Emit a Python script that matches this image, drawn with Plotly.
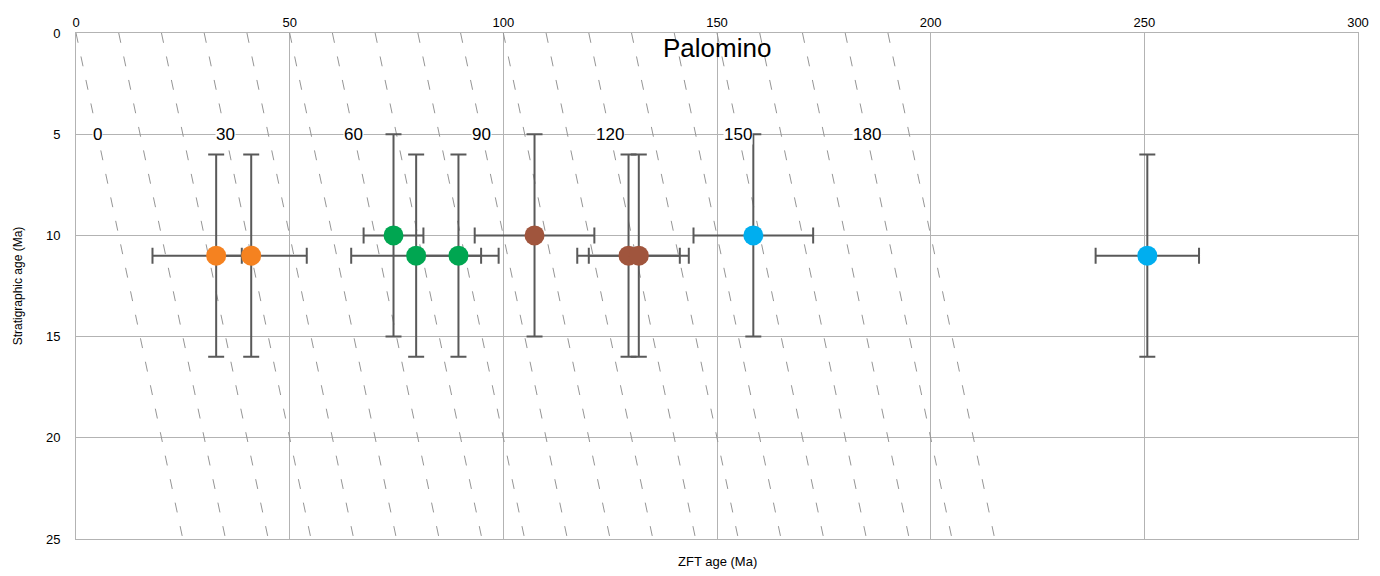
import plotly.graph_objects as go

# ---- data ----
lags = list(range(0, 200, 10))          # lag-time reference lines (Ma)
lag_labels = [0, 30, 60, 90, 120, 150, 180]
strat_range = [0, 25]

orange_x = [32.8, 41.0]
orange_y = [11, 11]
orange_xplus = [6.0, 13.0]
orange_xminus = [14.9, 8.0]
orange_yerr = [5, 5]

green_x = [74.3, 79.6, 89.5]
green_y = [10, 11, 11]
green_xerr = [7.0, 15.2, 9.4]
green_yerr = [5, 5, 5]

brown_x = [107.3, 129.3, 131.7]
brown_y = [10, 11, 11]
brown_xerr = [14.0, 12.0, 11.7]
brown_yerr = [5, 5, 5]

blue_x = [158.5, 250.7]
blue_y = [10, 11]
blue_xerr = [14.0, 12.1]
blue_yerr = [5, 5]

FONT = "Liberation Sans, Arial, Helvetica, sans-serif"
ERR_COLOR = "#595959"

fig = go.Figure()

# lag lines: ZFT age = stratigraphic age + lag
for lag in lags:
    fig.add_trace(go.Scatter(
        x=[lag + strat_range[0], lag + strat_range[1]],
        y=strat_range,
        mode="lines",
        line=dict(color="#959595", width=1, dash="10px,14px"),
        hoverinfo="skip", showlegend=False,
    ))

def add_series(x, y, color, xplus, xminus, yerr):
    fig.add_trace(go.Scatter(
        x=x, y=y, mode="markers",
        marker=dict(color=color, size=20, line=dict(width=0)),
        error_x=dict(type="data", array=xplus, arrayminus=xminus, symmetric=False,
                     color=ERR_COLOR, thickness=2, width=8),
        error_y=dict(type="data", array=yerr, color=ERR_COLOR, thickness=2, width=8),
        showlegend=False,
    ))

add_series(orange_x, orange_y, "#F58220", orange_xplus, orange_xminus, orange_yerr)
add_series(green_x, green_y, "#00A651", green_xerr, green_xerr, green_yerr)
add_series(brown_x, brown_y, "#A0553D", brown_xerr, brown_xerr, brown_yerr)
add_series(blue_x, blue_y, "#00AEEF", blue_xerr, blue_xerr, blue_yerr)

annotations = []
for lab in lag_labels:
    annotations.append(dict(
        x=lab + 5, y=5, xref="x", yref="y", text=str(lab), showarrow=False,
        font=dict(family=FONT, size=17, color="#000"),
        bgcolor="white", borderpad=0, xanchor="center", yanchor="middle",
    ))
annotations.append(dict(
    x=0.5, y=0.97, xref="paper", yref="paper", text="Palomino", showarrow=False,
    font=dict(family=FONT, size=26, color="#000"), xanchor="center", yanchor="middle",
))
annotations.append(dict(
    x=0.5, y=-0.045, xref="paper", yref="paper", text="ZFT age (Ma)", showarrow=False,
    font=dict(family=FONT, size=13, color="#000"), xanchor="center", yanchor="middle",
))

GRID = "#b3b3b3"
fig.update_layout(
    width=1380, height=576,
    margin=dict(l=76, r=22, t=33, b=37),
    paper_bgcolor="white", plot_bgcolor="white",
    font=dict(family=FONT, size=13, color="#000"),
    annotations=annotations,
    xaxis=dict(
        range=[0, 300], side="top", tickmode="linear", tick0=0, dtick=50,
        showgrid=True, gridcolor=GRID, gridwidth=1,
        showline=True, linecolor=GRID, linewidth=1, mirror=True,
        zeroline=False, ticks="", tickfont=dict(size=13),
    ),
    yaxis=dict(
        range=[25, 0], tickmode="linear", tick0=0, dtick=5,
        showgrid=True, gridcolor=GRID, gridwidth=1,
        showline=True, linecolor=GRID, linewidth=1, mirror=True,
        zeroline=False, ticks="", tickfont=dict(size=13), ticklabelstandoff=12,
        title=dict(text="Stratigraphic age (Ma)", font=dict(size=12), standoff=20),
    ),
)

fig.write_html("out.html")
